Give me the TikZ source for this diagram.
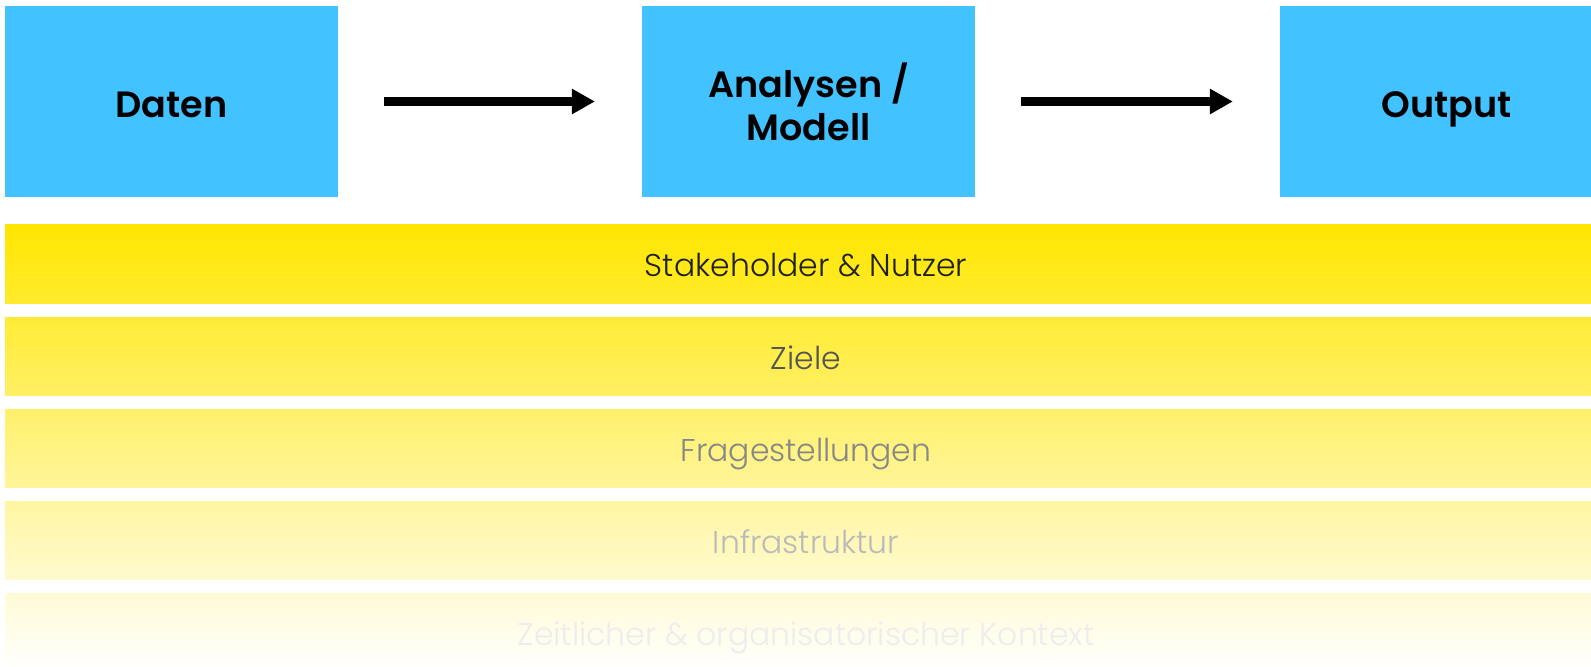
\documentclass[tikz,border=0pt]{standalone}
\usepackage{fontspec}
\setmainfont{Poppins}
\newfontfamily\lightfont{Poppins Light}
\newfontfamily\boxfont{Poppins SemiBold}
\usepackage{xcolor}
\usetikzlibrary{arrows.meta}

\definecolor{boxblue}{HTML}{42C3FF}
\definecolor{bandyellow}{HTML}{FFE600}

\begin{document}
\begin{tikzpicture}[x=0.01cm,y=-0.01cm,
	stage/.style={fill=boxblue,inner sep=0pt,outer sep=0pt,minimum width=3.33cm,minimum height=1.91cm,align=center,font=\boxfont\fontsize{10.4}{12.2}\selectfont},
	flow/.style={line width=0.08cm,-{Triangle[length=0.23cm,width=0.24cm]},shorten <=0.46cm,shorten >=0.47cm},
	bandtext/.style={anchor=base,inner sep=0pt,font=\lightfont\fontsize{8.95}{11}\selectfont}]
	\useasboundingbox (0,0) rectangle (1591,667);
	
	\node[stage,text height=0.32cm,text depth=0pt] (daten) at (171.5,101.5) {Daten};
	\node[stage] (analysen) at (808.5,101.5) {Analysen /\\Modell};
	\node[stage,text height=0.32cm,text depth=0pt] (output) at (1446.5,101.5) {Output};
	
	\draw[flow] (daten) -- (analysen);
	\draw[flow] (analysen) -- (output);
	
	% Kontext-Ebenen, nach unten ausgeblendet
	\foreach \lbl/\tc [count=\i from 0] in {Stakeholder \& Nutzer/87,Ziele/67,Fragestellungen/47,Infrastruktur/27,Zeitlicher \& organisatorischer Kontext/7}{
		\pgfmathtruncatemacro\ptop{100-92*\i/4.42}
		\pgfmathtruncatemacro\pbot{max(100-(92*\i+78)/4.42,0)}
		\fill[top color=bandyellow!\ptop!white,bottom color=bandyellow!\pbot!white] (5,{225+92*\i}) rectangle (1591,{303+92*\i});
		\node[bandtext,text=black!\tc] (ebene\i) at (806,{277+92*\i}) {\lbl};
	}
	
\end{tikzpicture}
\end{document}
